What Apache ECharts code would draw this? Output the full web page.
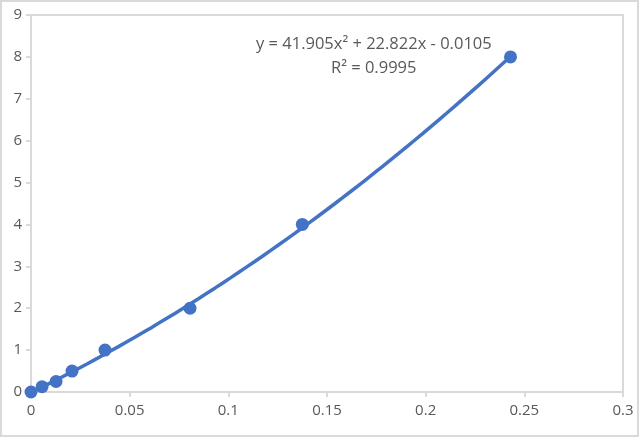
<!DOCTYPE html>
<html>
<head>
<meta charset="utf-8">
<script src="https://cdn.jsdelivr.net/npm/echarts@6/dist/echarts.min.js"></script>
<style>
html,body{margin:0;padding:0;background:#fff;}
#c{width:639px;height:437px;box-sizing:border-box;border:2px solid #d9d9d9;}
</style>
</head>
<body>
<div id="c"></div>
<script>
var xValues = [0, 0.0056, 0.0127, 0.0208, 0.0375, 0.0806, 0.1375, 0.243];
var yValues = [0, 0.125, 0.25, 0.5, 1, 2, 4, 8];
var trendCoef = [41.905, 22.822, -0.0105]; // a, b, c of the displayed trendline
var trendLabel = ['y = 41.905x\u00B2 + 22.822x - 0.0105', 'R\u00B2 = 0.9995'];

var points = xValues.map(function(x, i){ return [x, yValues[i]]; });
var trend = [];
var xEnd = xValues[xValues.length - 1];
for (var k = 0; k <= 60; k++) {
  var x = xEnd * k / 60;
  trend.push([x, trendCoef[0]*x*x + trendCoef[1]*x + trendCoef[2]]);
}

var chart = echarts.init(document.getElementById('c'));
var grey = '#595959', lineC = '#d9d9d9';
var ff = '"Open Sans", sans-serif';
chart.setOption({
  animation: false,
  grid: {left: 29, right: 14, top: 13, bottom: 43, show: true, borderColor: lineC, borderWidth: 2},
  xAxis: {
    type: 'value', min: 0, max: 0.3, interval: 0.05,
    axisLine: {show: true, lineStyle: {color: lineC, width: 2}},
    axisTick: {show: true, length: 5, lineStyle: {color: lineC, width: 2}},
    splitLine: {show: false},
    axisLabel: {color: grey, fontSize: 15, fontFamily: ff, margin: 11}
  },
  yAxis: {
    type: 'value', min: 0, max: 9, interval: 1,
    axisLine: {show: true, lineStyle: {color: lineC, width: 2}},
    axisTick: {show: true, length: 5, lineStyle: {color: lineC, width: 2}},
    splitLine: {show: false},
    axisLabel: {color: grey, fontSize: 15, fontFamily: ff, margin: 9}
  },
  series: [
    {type: 'line', data: trend, showSymbol: false, symbol: 'none', lineStyle: {color: '#4472C4', width: 3.5}, z: 2},
    {type: 'scatter', data: points, symbolSize: 13, itemStyle: {color: '#4472C4', opacity: 1}, z: 3}
  ],
  graphic: [
    {type: 'text', left: 254, top: 34, style: {text: trendLabel[0], fill: grey, font: '16.5px "Open Sans", sans-serif'}},
    {type: 'text', left: 329, top: 58, style: {text: trendLabel[1], fill: grey, font: '16.5px "Open Sans", sans-serif'}}
  ]
});
</script>
</body>
</html>
